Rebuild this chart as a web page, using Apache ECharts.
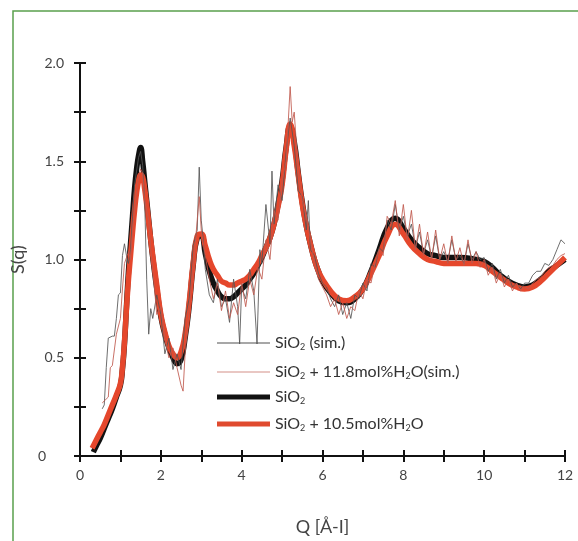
<!DOCTYPE html>
<html>
<head>
<meta charset="utf-8">
<script src="https://cdn.jsdelivr.net/npm/echarts@6/dist/echarts.min.js"></script>
<style>
  html, body { margin: 0; padding: 0; background: #fff; }
  #chart { width: 578px; height: 541px; }
</style>
</head>
<body>
<div id="chart"></div>
<script>
// measured SiO2, thick black
var qExpSiO2 = [0.33, 0.4, 0.5, 0.6, 0.7, 0.8, 0.9, 1.0, 1.05, 1.1, 1.15, 1.2, 1.25, 1.3, 1.35, 1.4, 1.45, 1.5, 1.55, 1.6, 1.65, 1.7, 1.75, 1.8, 1.9, 2.0, 2.1, 2.2, 2.3, 2.4, 2.5, 2.6, 2.7, 2.8, 2.9, 3.0, 3.1, 3.2, 3.3, 3.4, 3.5, 3.6, 3.7, 3.8, 3.9, 4.0, 4.1, 4.2, 4.3, 4.4, 4.5, 4.6, 4.7, 4.8, 4.9, 5.0, 5.1, 5.2, 5.3, 5.4, 5.5, 5.6, 5.7, 5.8, 5.9, 6.0, 6.2, 6.4, 6.6, 6.8, 7.0, 7.2, 7.4, 7.6, 7.8, 8.0, 8.2, 8.4, 8.6, 8.8, 9.0, 9.4, 9.8, 10.0, 10.2, 10.4, 10.6, 10.8, 11.0, 11.2, 11.4, 11.6, 11.8, 12.0]
var sExpSiO2 = [0.02, 0.05, 0.09, 0.14, 0.19, 0.24, 0.30, 0.36, 0.44, 0.57, 0.76, 0.94, 1.08, 1.22, 1.36, 1.46, 1.53, 1.57, 1.50, 1.40, 1.30, 1.20, 1.10, 1.01, 0.85, 0.71, 0.62, 0.55, 0.50, 0.47, 0.49, 0.60, 0.76, 0.97, 1.11, 1.12, 1.03, 0.94, 0.88, 0.84, 0.81, 0.80, 0.80, 0.81, 0.83, 0.85, 0.87, 0.90, 0.93, 0.97, 1.01, 1.06, 1.11, 1.18, 1.28, 1.40, 1.57, 1.68, 1.60, 1.44, 1.29, 1.17, 1.08, 1.00, 0.94, 0.89, 0.83, 0.79, 0.78, 0.80, 0.85, 0.94, 1.05, 1.16, 1.21, 1.16, 1.10, 1.06, 1.03, 1.02, 1.01, 1.01, 1.00, 0.99, 0.96, 0.92, 0.89, 0.87, 0.86, 0.87, 0.90, 0.94, 0.97, 1.00]

// measured SiO2 + 10.5mol% H2O, thick red
var qExpH2O = [0.3, 0.4, 0.5, 0.6, 0.7, 0.8, 0.9, 1.0, 1.05, 1.1, 1.15, 1.2, 1.25, 1.3, 1.35, 1.4, 1.45, 1.5, 1.55, 1.6, 1.65, 1.7, 1.75, 1.8, 1.9, 2.0, 2.1, 2.2, 2.3, 2.4, 2.5, 2.6, 2.7, 2.8, 2.9, 3.0, 3.1, 3.2, 3.3, 3.4, 3.5, 3.6, 3.7, 3.8, 3.9, 4.0, 4.1, 4.2, 4.3, 4.4, 4.5, 4.6, 4.7, 4.8, 4.9, 5.0, 5.1, 5.2, 5.3, 5.4, 5.5, 5.6, 5.7, 5.8, 5.9, 6.0, 6.2, 6.4, 6.6, 6.8, 7.0, 7.2, 7.4, 7.6, 7.8, 8.0, 8.2, 8.4, 8.6, 8.8, 9.0, 9.4, 9.8, 10.0, 10.2, 10.4, 10.6, 10.8, 11.0, 11.2, 11.4, 11.6, 11.8, 12.0]
var sExpH2O = [0.04, 0.08, 0.12, 0.16, 0.21, 0.26, 0.31, 0.37, 0.45, 0.58, 0.75, 0.90, 1.02, 1.14, 1.25, 1.34, 1.40, 1.43, 1.42, 1.36, 1.28, 1.19, 1.10, 1.02, 0.87, 0.72, 0.63, 0.56, 0.52, 0.50, 0.53, 0.62, 0.78, 0.98, 1.12, 1.13, 1.07, 1.00, 0.95, 0.92, 0.89, 0.88, 0.87, 0.87, 0.88, 0.89, 0.90, 0.92, 0.95, 0.98, 1.02, 1.06, 1.11, 1.18, 1.27, 1.38, 1.56, 1.69, 1.58, 1.43, 1.28, 1.17, 1.08, 1.00, 0.94, 0.90, 0.84, 0.80, 0.79, 0.81, 0.85, 0.93, 1.02, 1.12, 1.18, 1.13, 1.07, 1.03, 1.00, 0.99, 0.98, 0.98, 0.98, 0.97, 0.94, 0.91, 0.88, 0.86, 0.85, 0.86, 0.89, 0.93, 0.97, 1.01]

// simulated SiO2, thin gray
var qSimSiO2 = [0.55, 0.6, 0.65, 0.7, 0.8, 0.85, 0.9, 0.95, 1.0, 1.05, 1.1, 1.15, 1.2, 1.25, 1.3, 1.35, 1.4, 1.45, 1.5, 1.55, 1.6, 1.65, 1.7, 1.75, 1.8, 1.9, 2.0, 2.1, 2.2, 2.3, 2.4, 2.5, 2.6, 2.7, 2.8, 2.9, 2.95, 3.0, 3.05, 3.1, 3.2, 3.3, 3.4, 3.5, 3.6, 3.7, 3.8, 3.9, 3.95, 4.0, 4.1, 4.2, 4.3, 4.38, 4.45, 4.5, 4.6, 4.7, 4.75, 4.8, 4.9, 5.0, 5.1, 5.2, 5.3, 5.4, 5.5, 5.6, 5.65, 5.7, 5.8, 5.9, 6.0, 6.1, 6.2, 6.3, 6.4, 6.5, 6.6, 6.7, 6.8, 6.9, 7.0, 7.1, 7.2, 7.3, 7.4, 7.5, 7.6, 7.7, 7.8, 7.9, 8.0, 8.1, 8.2, 8.3, 8.4, 8.5, 8.6, 8.7, 8.8, 8.9, 9.0, 9.1, 9.2, 9.3, 9.4, 9.5, 9.6, 9.7, 9.8, 9.9, 10.0, 10.1, 10.2, 10.3, 10.4, 10.5, 10.6, 10.7, 10.8, 10.9, 11.0, 11.1, 11.2, 11.3, 11.4, 11.5, 11.6, 11.7, 11.8, 11.9, 12.0]
var sSimSiO2 = [0.24, 0.26, 0.45, 0.60, 0.61, 0.61, 0.70, 0.82, 0.83, 1.02, 1.08, 1.02, 0.98, 1.05, 1.22, 1.38, 1.45, 1.52, 1.55, 1.48, 1.30, 0.90, 0.62, 0.75, 0.70, 0.82, 0.72, 0.52, 0.60, 0.44, 0.52, 0.44, 0.70, 0.80, 1.07, 1.15, 1.47, 1.20, 1.10, 0.95, 0.82, 0.78, 0.90, 0.76, 0.80, 0.68, 0.90, 0.76, 0.57, 0.86, 0.80, 0.95, 0.84, 0.57, 1.05, 0.98, 1.28, 1.08, 1.45, 1.18, 1.38, 1.30, 1.55, 1.72, 1.58, 1.35, 1.32, 1.15, 1.30, 1.05, 1.02, 0.93, 0.88, 0.86, 0.80, 0.76, 0.82, 0.72, 0.78, 0.70, 0.82, 0.80, 0.88, 0.84, 0.98, 0.96, 1.06, 1.04, 1.20, 1.15, 1.28, 1.15, 1.22, 1.12, 1.18, 1.06, 1.14, 1.03, 1.10, 1.01, 1.12, 1.00, 1.04, 0.99, 1.10, 1.00, 1.02, 0.98, 1.08, 1.00, 1.04, 1.00, 1.01, 0.94, 0.98, 0.90, 0.95, 0.88, 0.92, 0.86, 0.88, 0.85, 0.88, 0.88, 0.92, 0.94, 0.94, 0.98, 0.97, 1.00, 1.05, 1.10, 1.08]

// simulated SiO2 + 11.8mol% H2O, thin red
var qSimH2O = [0.55, 0.6, 0.7, 0.75, 0.8, 0.9, 1.0, 1.05, 1.1, 1.2, 1.25, 1.3, 1.4, 1.45, 1.5, 1.55, 1.6, 1.7, 1.75, 1.8, 1.9, 2.0, 2.1, 2.2, 2.3, 2.4, 2.5, 2.55, 2.6, 2.7, 2.8, 2.9, 2.95, 3.0, 3.1, 3.2, 3.3, 3.4, 3.5, 3.6, 3.7, 3.8, 3.9, 4.0, 4.1, 4.2, 4.3, 4.4, 4.5, 4.6, 4.7, 4.8, 4.9, 5.0, 5.1, 5.2, 5.25, 5.3, 5.4, 5.5, 5.6, 5.7, 5.8, 5.9, 6.0, 6.1, 6.2, 6.3, 6.4, 6.5, 6.6, 6.7, 6.8, 6.9, 7.0, 7.1, 7.2, 7.3, 7.4, 7.5, 7.6, 7.7, 7.8, 7.9, 8.0, 8.1, 8.2, 8.3, 8.4, 8.5, 8.6, 8.7, 8.8, 8.9, 9.0, 9.1, 9.2, 9.3, 9.4, 9.5, 9.6, 9.7, 9.8, 9.9, 10.0, 10.1, 10.2, 10.3, 10.4, 10.5, 10.6, 10.7, 10.8, 10.9, 11.0, 11.1, 11.2, 11.3, 11.4, 11.5, 11.6, 11.7, 11.8, 11.9, 12.0]
var sSimH2O = [0.27, 0.28, 0.30, 0.45, 0.46, 0.62, 0.70, 0.85, 0.98, 1.04, 1.00, 1.15, 1.35, 1.42, 1.46, 1.44, 1.30, 1.20, 1.05, 0.95, 0.72, 0.76, 0.60, 0.50, 0.55, 0.45, 0.36, 0.33, 0.52, 0.75, 0.95, 1.20, 1.32, 1.15, 1.02, 0.90, 0.80, 0.88, 0.74, 0.84, 0.70, 0.78, 0.72, 0.88, 0.76, 0.90, 0.82, 0.96, 0.90, 1.10, 1.00, 1.25, 1.20, 1.40, 1.50, 1.88, 1.70, 1.75, 1.45, 1.30, 1.22, 1.10, 0.98, 0.90, 0.86, 0.82, 0.76, 0.80, 0.72, 0.78, 0.70, 0.76, 0.74, 0.84, 0.80, 0.90, 0.88, 0.98, 1.05, 1.02, 1.22, 1.18, 1.30, 1.12, 1.28, 1.10, 1.25, 1.05, 1.18, 1.02, 1.14, 1.00, 1.15, 1.00, 1.08, 0.98, 1.12, 0.99, 1.06, 0.97, 1.10, 0.98, 1.04, 0.96, 1.00, 0.92, 0.96, 0.88, 0.93, 0.86, 0.90, 0.84, 0.88, 0.84, 0.86, 0.85, 0.88, 0.90, 0.91, 0.94, 0.96, 0.97, 1.00, 1.02, 1.03]

var names = ['SiO2 (sim.)', 'SiO2 + 11.8mol%H2O(sim.)', 'SiO2', 'SiO2 + 10.5mol%H2O']
var legendText = [
  '{t|SiO}{s|2}{t| (sim.)}',
  '{t|SiO}{s|2}{t| + 11.8mol%H}{s|2}{t|O(sim.)}',
  '{t|SiO}{s|2}',
  '{t|SiO}{s|2}{t| + 10.5mol%H}{s|2}{t|O}'
]
var legendY = [343, 372, 397, 424]
var yLabels = { 0: '{z|0}', 0.5: '0.5', 1: '1.0', 1.5: '1.5', 2: '2.0' }

function pairs(q, s) {
  var out = []
  for (var i = 0; i < q.length; i++) out.push([q[i], s[i]])
  return out
}

var font = 'Lato, "Open Sans", sans-serif'
var chart = echarts.init(document.getElementById('chart'))

// one legend per row, icon is a flat bar so rows keep text height
var iconH = [1.5, 1.2, 5, 5]
var iconC = ['#8a8a8a', '#d49088', '#111', '#e04a2e']
var legends = []
for (var i = 0; i < names.length; i++) {
  legends.push({
    data: [{ name: names[i], icon: 'rect', itemStyle: { color: iconC[i] } }],
    left: 212,
    top: legendY[i] - 13,
    itemWidth: 53,
    itemHeight: iconH[i],
    selectedMode: false,
    formatter: (function (k) { return function () { return legendText[k] } })(i),
    textStyle: {
      rich: {
        t: { fontFamily: font, fontSize: 16, color: '#333' },
        s: { fontFamily: font, fontSize: 9, color: '#333', verticalAlign: 'bottom', padding: [9, 0, 0, 0] }
      }
    }
  })
}

var tickStyle = { show: true, inside: true, length: 6, lineStyle: { color: '#111', width: 2 } }

var option = {
  animation: false,
  backgroundColor: '#fff',
  graphic: [{
    type: 'rect',
    shape: { x: 13, y: 11, width: 700, height: 700 },
    style: { fill: 'none', stroke: '#5aa04c', lineWidth: 1.5 },
    silent: true
  }],
  grid: { left: 80, right: 13, top: 63, bottom: 83 },
  legend: legends,
  xAxis: [{
    type: 'value', min: 0, max: 12, interval: 1,
    name: 'Q [Å-I]', nameLocation: 'middle', nameGap: 62,
    nameTextStyle: { fontFamily: font, fontSize: 18, color: '#444' },
    axisLine: { lineStyle: { color: '#111', width: 2 } },
    axisTick: tickStyle,
    splitLine: { show: false },
    axisLabel: {
      margin: 12, fontFamily: font, fontSize: 14, color: '#444',
      formatter: function (v) { return v % 2 === 0 ? String(v) : '' }
    }
  }, {
    type: 'value', position: 'top', min: 0, max: 12, interval: 1,
    axisLine: { lineStyle: { color: '#111', width: 2 } },
    axisTick: tickStyle, axisLabel: { show: false }, splitLine: { show: false }
  }],
  yAxis: [{
    type: 'value', min: 0, max: 2, interval: 0.25,
    name: 'S(q)', nameLocation: 'middle', nameGap: 44, nameRotate: 90,
    nameTextStyle: { fontFamily: font, fontSize: 18, color: '#444' },
    axisLine: { show: true, lineStyle: { color: '#111', width: 2 } },
    axisTick: tickStyle,
    splitLine: { show: false },
    axisLabel: {
      margin: 16, fontFamily: font, fontSize: 14, color: '#444',
      formatter: function (v) { return yLabels[v] || '' },
      rich: { z: { fontFamily: font, fontSize: 14, color: '#444', padding: [0, 18, 0, 0] } }
    }
  }, {
    type: 'value', position: 'right', min: 0, max: 2, interval: 0.25,
    axisLine: { show: true, lineStyle: { color: '#111', width: 2 } },
    axisTick: tickStyle, axisLabel: { show: false }, splitLine: { show: false }
  }],
  series: [{
    name: names[2], type: 'line', smooth: true, symbol: 'none', z: 2,
    data: pairs(qExpSiO2, sExpSiO2),
    lineStyle: { color: '#111', width: 5.5 }, itemStyle: { color: '#111' }
  }, {
    name: names[3], type: 'line', smooth: true, symbol: 'none', z: 3,
    data: pairs(qExpH2O, sExpH2O),
    lineStyle: { color: '#e5472c', width: 5.5 }, itemStyle: { color: '#e5472c' }
  }, {
    name: names[0], type: 'line', symbol: 'none', z: 4,
    data: pairs(qSimSiO2, sSimSiO2),
    lineStyle: { color: '#555', width: 1, opacity: 0.85 }, itemStyle: { color: '#888' }
  }, {
    name: names[1], type: 'line', symbol: 'none', z: 4,
    data: pairs(qSimH2O, sSimH2O),
    lineStyle: { color: '#c0584c', width: 1, opacity: 0.85 }, itemStyle: { color: '#d08a80' }
  }]
}
chart.setOption(option)
</script>
</body>
</html>
